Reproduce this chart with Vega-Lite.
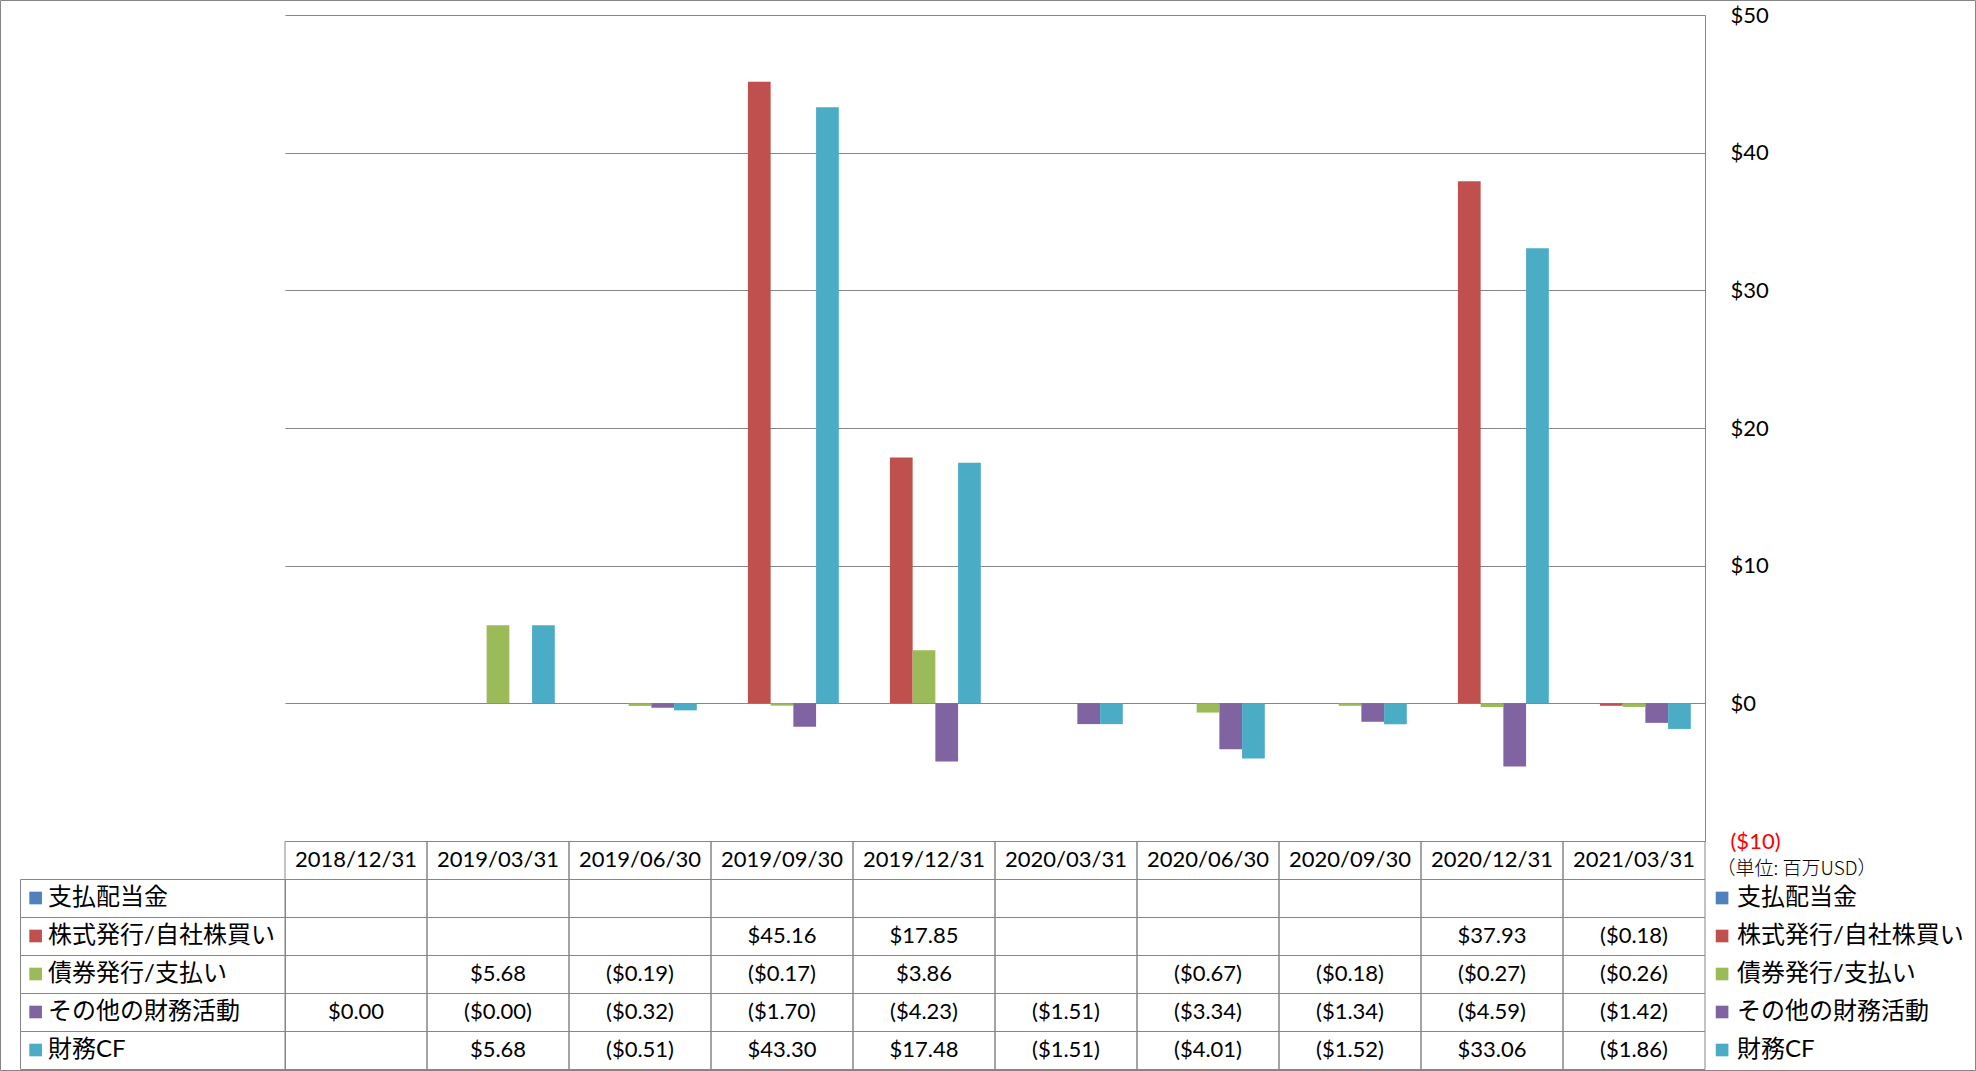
{
  "$schema": "https://vega.github.io/schema/vega-lite/v6.json",
  "width": 1420,
  "height": 1054,
  "autosize": {"type": "none"},
  "padding": {"left": 285, "top": 15, "right": 271, "bottom": 2},
  "background": "#ffffff",
  "config": {"view": {"stroke": null}},
  "datasets": {
    "dates": [
      {"date": "2018/12/31"}, {"date": "2019/03/31"}, {"date": "2019/06/30"}, {"date": "2019/09/30"}, {"date": "2019/12/31"},
      {"date": "2020/03/31"}, {"date": "2020/06/30"}, {"date": "2020/09/30"}, {"date": "2020/12/31"}, {"date": "2021/03/31"}
    ],
    "series": [
      {"series": "支払配当金"}, {"series": "株式発行/自社株買い"}, {"series": "債券発行/支払い"}, {"series": "その他の財務活動"}, {"series": "財務CF"}
    ],
    "frame": [{"frame": "border"}],
    "cf": [
      {"date": "2018/12/31", "series": "支払配当金", "value": null, "text": ""},
      {"date": "2019/03/31", "series": "支払配当金", "value": null, "text": ""},
      {"date": "2019/06/30", "series": "支払配当金", "value": null, "text": ""},
      {"date": "2019/09/30", "series": "支払配当金", "value": null, "text": ""},
      {"date": "2019/12/31", "series": "支払配当金", "value": null, "text": ""},
      {"date": "2020/03/31", "series": "支払配当金", "value": null, "text": ""},
      {"date": "2020/06/30", "series": "支払配当金", "value": null, "text": ""},
      {"date": "2020/09/30", "series": "支払配当金", "value": null, "text": ""},
      {"date": "2020/12/31", "series": "支払配当金", "value": null, "text": ""},
      {"date": "2021/03/31", "series": "支払配当金", "value": null, "text": ""},
      {"date": "2018/12/31", "series": "株式発行/自社株買い", "value": null, "text": ""},
      {"date": "2019/03/31", "series": "株式発行/自社株買い", "value": null, "text": ""},
      {"date": "2019/06/30", "series": "株式発行/自社株買い", "value": null, "text": ""},
      {"date": "2019/09/30", "series": "株式発行/自社株買い", "value": 45.16, "text": "$45.16"},
      {"date": "2019/12/31", "series": "株式発行/自社株買い", "value": 17.85, "text": "$17.85"},
      {"date": "2020/03/31", "series": "株式発行/自社株買い", "value": null, "text": ""},
      {"date": "2020/06/30", "series": "株式発行/自社株買い", "value": null, "text": ""},
      {"date": "2020/09/30", "series": "株式発行/自社株買い", "value": null, "text": ""},
      {"date": "2020/12/31", "series": "株式発行/自社株買い", "value": 37.93, "text": "$37.93"},
      {"date": "2021/03/31", "series": "株式発行/自社株買い", "value": -0.18, "text": "($0.18)"},
      {"date": "2018/12/31", "series": "債券発行/支払い", "value": null, "text": ""},
      {"date": "2019/03/31", "series": "債券発行/支払い", "value": 5.68, "text": "$5.68"},
      {"date": "2019/06/30", "series": "債券発行/支払い", "value": -0.19, "text": "($0.19)"},
      {"date": "2019/09/30", "series": "債券発行/支払い", "value": -0.17, "text": "($0.17)"},
      {"date": "2019/12/31", "series": "債券発行/支払い", "value": 3.86, "text": "$3.86"},
      {"date": "2020/03/31", "series": "債券発行/支払い", "value": null, "text": ""},
      {"date": "2020/06/30", "series": "債券発行/支払い", "value": -0.67, "text": "($0.67)"},
      {"date": "2020/09/30", "series": "債券発行/支払い", "value": -0.18, "text": "($0.18)"},
      {"date": "2020/12/31", "series": "債券発行/支払い", "value": -0.27, "text": "($0.27)"},
      {"date": "2021/03/31", "series": "債券発行/支払い", "value": -0.26, "text": "($0.26)"},
      {"date": "2018/12/31", "series": "その他の財務活動", "value": 0.0, "text": "$0.00"},
      {"date": "2019/03/31", "series": "その他の財務活動", "value": -0.001, "text": "($0.00)"},
      {"date": "2019/06/30", "series": "その他の財務活動", "value": -0.32, "text": "($0.32)"},
      {"date": "2019/09/30", "series": "その他の財務活動", "value": -1.70, "text": "($1.70)"},
      {"date": "2019/12/31", "series": "その他の財務活動", "value": -4.23, "text": "($4.23)"},
      {"date": "2020/03/31", "series": "その他の財務活動", "value": -1.51, "text": "($1.51)"},
      {"date": "2020/06/30", "series": "その他の財務活動", "value": -3.34, "text": "($3.34)"},
      {"date": "2020/09/30", "series": "その他の財務活動", "value": -1.34, "text": "($1.34)"},
      {"date": "2020/12/31", "series": "その他の財務活動", "value": -4.59, "text": "($4.59)"},
      {"date": "2021/03/31", "series": "その他の財務活動", "value": -1.42, "text": "($1.42)"},
      {"date": "2018/12/31", "series": "財務CF", "value": null, "text": ""},
      {"date": "2019/03/31", "series": "財務CF", "value": 5.68, "text": "$5.68"},
      {"date": "2019/06/30", "series": "財務CF", "value": -0.51, "text": "($0.51)"},
      {"date": "2019/09/30", "series": "財務CF", "value": 43.30, "text": "$43.30"},
      {"date": "2019/12/31", "series": "財務CF", "value": 17.48, "text": "$17.48"},
      {"date": "2020/03/31", "series": "財務CF", "value": -1.51, "text": "($1.51)"},
      {"date": "2020/06/30", "series": "財務CF", "value": -4.01, "text": "($4.01)"},
      {"date": "2020/09/30", "series": "財務CF", "value": -1.52, "text": "($1.52)"},
      {"date": "2020/12/31", "series": "財務CF", "value": 33.06, "text": "$33.06"},
      {"date": "2021/03/31", "series": "財務CF", "value": -1.86, "text": "($1.86)"}
    ]
  },
  "resolve": {"scale": {"x": "independent", "y": "independent"}, "axis": {"x": "independent", "y": "independent"}},
  "layer": [
    {
      "data": {"name": "frame"},
      "mark": {"type": "rect", "fill": null, "stroke": "#868686", "strokeWidth": 1},
      "encoding": {
        "x": {"datum": 0, "type": "quantitative", "scale": {"domain": [0, 1], "range": [-284.5, 1690.5], "nice": false, "zero": false}, "axis": null},
        "x2": {"datum": 1},
        "y": {"datum": 0, "type": "quantitative", "scale": {"domain": [0, 1], "range": [-14.5, 1055.5], "nice": false, "zero": false}, "axis": null},
        "y2": {"datum": 1}
      }
    },
    {
      "data": {"name": "cf"},
      "mark": {"type": "bar"},
      "encoding": {
        "x": {"field": "date", "type": "nominal", "scale": {"type": "band", "domain": ["2018/12/31", "2019/03/31", "2019/06/30", "2019/09/30", "2019/12/31", "2020/03/31", "2020/06/30", "2020/09/30", "2020/12/31", "2021/03/31"], "paddingInner": 0.2, "paddingOuter": 0.1}, "axis": null},
        "xOffset": {"field": "series", "type": "nominal", "scale": {"domain": ["支払配当金", "株式発行/自社株買い", "債券発行/支払い", "その他の財務活動", "財務CF"], "paddingInner": 0, "paddingOuter": 0}},
        "y": {
          "field": "value", "type": "quantitative",
          "scale": {"domain": [-10, 50], "range": [826, 0], "nice": false},
          "axis": {
            "orient": "right", "values": [-10, 0, 10, 20, 30, 40, 50],
            "grid": true, "gridColor": "#868686", "gridWidth": 1,
            "domain": true, "domainColor": "#868686", "domainWidth": 1,
            "ticks": false, "labelPadding": 25, "labelOverlap": false, "labelBound": false,
            "labelFont": "Lato", "labelFontSize": 22,
            "labelColor": {"condition": {"test": "datum.value < 0", "value": "#FF0000"}, "value": "#000000"},
            "labelExpr": "datum.value < 0 ? '($' + (-datum.value) + ')' : '$' + datum.value",
            "title": "（単位: 百万USD）", "titleAngle": 0, "titleAlign": "left", "titleBaseline": "middle",
            "titleX": 11, "titleY": 853, "titleFont": "Noto Sans CJK JP", "titleFontSize": 19,
            "titleFontWeight": 300, "titleColor": "#000000"
          }
        },
        "color": {"field": "series", "type": "nominal", "scale": {"domain": ["支払配当金", "株式発行/自社株買い", "債券発行/支払い", "その他の財務活動", "財務CF"], "range": ["#4F81BD", "#C0504D", "#9BBB59", "#8064A2", "#4BACC6"]}, "legend": null}
      }
    },
    {
      "data": {"name": "cf"},
      "mark": {"type": "rect", "fill": null, "stroke": "#868686", "strokeWidth": 1},
      "encoding": {
        "x": {"field": "date", "type": "nominal", "scale": {"type": "band", "domain": ["2018/12/31", "2019/03/31", "2019/06/30", "2019/09/30", "2019/12/31", "2020/03/31", "2020/06/30", "2020/09/30", "2020/12/31", "2021/03/31"], "paddingInner": 0, "paddingOuter": 0}, "axis": null},
        "y": {"field": "series", "type": "nominal", "scale": {"type": "band", "domain": ["hdr", "支払配当金", "株式発行/自社株買い", "債券発行/支払い", "その他の財務活動", "財務CF"], "range": [826.5, 1054.5], "paddingInner": 0, "paddingOuter": 0}, "axis": null}
      }
    },
    {
      "data": {"name": "dates"},
      "mark": {"type": "rect", "fill": null, "stroke": "#868686", "strokeWidth": 1},
      "encoding": {
        "x": {"field": "date", "type": "nominal", "scale": {"type": "band", "domain": ["2018/12/31", "2019/03/31", "2019/06/30", "2019/09/30", "2019/12/31", "2020/03/31", "2020/06/30", "2020/09/30", "2020/12/31", "2021/03/31"], "paddingInner": 0, "paddingOuter": 0}, "axis": null},
        "y": {"datum": "hdr", "type": "nominal", "scale": {"type": "band", "domain": ["hdr", "支払配当金", "株式発行/自社株買い", "債券発行/支払い", "その他の財務活動", "財務CF"], "range": [826.5, 1054.5], "paddingInner": 0, "paddingOuter": 0}, "axis": null}
      }
    },
    {
      "data": {"name": "dates"},
      "mark": {"type": "text", "font": "Lato", "fontSize": 22, "color": "#000000", "align": "center", "baseline": "middle"},
      "encoding": {
        "x": {"field": "date", "type": "nominal", "scale": {"type": "band", "domain": ["2018/12/31", "2019/03/31", "2019/06/30", "2019/09/30", "2019/12/31", "2020/03/31", "2020/06/30", "2020/09/30", "2020/12/31", "2021/03/31"], "paddingInner": 0, "paddingOuter": 0}, "axis": null},
        "y": {"datum": "hdr", "type": "nominal", "scale": {"type": "band", "domain": ["hdr", "支払配当金", "株式発行/自社株買い", "債券発行/支払い", "その他の財務活動", "財務CF"], "range": [826, 1054], "paddingInner": 0, "paddingOuter": 0}, "axis": null},
        "text": {"field": "date", "type": "nominal"}
      }
    },
    {
      "data": {"name": "cf"},
      "mark": {"type": "text", "font": "Lato", "fontSize": 22, "color": "#000000", "align": "center", "baseline": "middle"},
      "encoding": {
        "x": {"field": "date", "type": "nominal", "scale": {"type": "band", "domain": ["2018/12/31", "2019/03/31", "2019/06/30", "2019/09/30", "2019/12/31", "2020/03/31", "2020/06/30", "2020/09/30", "2020/12/31", "2021/03/31"], "paddingInner": 0, "paddingOuter": 0}, "axis": null},
        "y": {"field": "series", "type": "nominal", "scale": {"type": "band", "domain": ["hdr", "支払配当金", "株式発行/自社株買い", "債券発行/支払い", "その他の財務活動", "財務CF"], "range": [826, 1054], "paddingInner": 0, "paddingOuter": 0}, "axis": null},
        "text": {"field": "text", "type": "nominal"}
      }
    },
    {
      "data": {"name": "series"},
      "mark": {"type": "rect", "fill": null, "stroke": "#868686", "strokeWidth": 1},
      "encoding": {
        "x": {"datum": "lab", "type": "nominal", "scale": {"type": "band", "domain": ["lab"], "range": [-264.5, 0.5], "paddingInner": 0, "paddingOuter": 0}, "axis": null},
        "y": {"field": "series", "type": "nominal", "scale": {"type": "band", "domain": ["hdr", "支払配当金", "株式発行/自社株買い", "債券発行/支払い", "その他の財務活動", "財務CF"], "range": [826.5, 1054.5], "paddingInner": 0, "paddingOuter": 0}, "axis": null}
      }
    },
    {
      "data": {"name": "series"},
      "mark": {"type": "square", "size": 160, "opacity": 1},
      "encoding": {
        "x": {"datum": "lab", "type": "nominal", "bandPosition": 0.059, "scale": {"type": "band", "domain": ["lab"], "range": [-265, 0], "paddingInner": 0, "paddingOuter": 0}, "axis": null},
        "y": {"field": "series", "type": "nominal", "scale": {"type": "band", "domain": ["hdr", "支払配当金", "株式発行/自社株買い", "債券発行/支払い", "その他の財務活動", "財務CF"], "range": [826, 1054], "paddingInner": 0, "paddingOuter": 0}, "axis": null},
        "color": {"field": "series", "type": "nominal", "scale": {"domain": ["支払配当金", "株式発行/自社株買い", "債券発行/支払い", "その他の財務活動", "財務CF"], "range": ["#4F81BD", "#C0504D", "#9BBB59", "#8064A2", "#4BACC6"]}, "legend": null}
      }
    },
    {
      "data": {"name": "series"},
      "mark": {"type": "text", "font": "Lato, Noto Sans CJK JP", "fontSize": 24, "color": "#000000", "align": "left", "baseline": "middle"},
      "encoding": {
        "x": {"datum": "lab", "type": "nominal", "bandPosition": 0.106, "scale": {"type": "band", "domain": ["lab"], "range": [-265, 0], "paddingInner": 0, "paddingOuter": 0}, "axis": null},
        "y": {"field": "series", "type": "nominal", "scale": {"type": "band", "domain": ["hdr", "支払配当金", "株式発行/自社株買い", "債券発行/支払い", "その他の財務活動", "財務CF"], "range": [826, 1054], "paddingInner": 0, "paddingOuter": 0}, "axis": null},
        "text": {"field": "series", "type": "nominal"}
      }
    },
    {
      "data": {"name": "series"},
      "mark": {"type": "square", "size": 160, "opacity": 1},
      "encoding": {
        "x": {"datum": "leg", "type": "nominal", "bandPosition": 0.063, "scale": {"type": "band", "domain": ["leg"], "range": [1420, 1691], "paddingInner": 0, "paddingOuter": 0}, "axis": null},
        "y": {"field": "series", "type": "nominal", "scale": {"type": "band", "domain": ["hdr", "支払配当金", "株式発行/自社株買い", "債券発行/支払い", "その他の財務活動", "財務CF"], "range": [826, 1054], "paddingInner": 0, "paddingOuter": 0}, "axis": null},
        "color": {"field": "series", "type": "nominal", "scale": {"domain": ["支払配当金", "株式発行/自社株買い", "債券発行/支払い", "その他の財務活動", "財務CF"], "range": ["#4F81BD", "#C0504D", "#9BBB59", "#8064A2", "#4BACC6"]}, "legend": null}
      }
    },
    {
      "data": {"name": "series"},
      "mark": {"type": "text", "font": "Lato, Noto Sans CJK JP", "fontSize": 24, "color": "#000000", "align": "left", "baseline": "middle"},
      "encoding": {
        "x": {"datum": "leg", "type": "nominal", "bandPosition": 0.118, "scale": {"type": "band", "domain": ["leg"], "range": [1420, 1691], "paddingInner": 0, "paddingOuter": 0}, "axis": null},
        "y": {"field": "series", "type": "nominal", "scale": {"type": "band", "domain": ["hdr", "支払配当金", "株式発行/自社株買い", "債券発行/支払い", "その他の財務活動", "財務CF"], "range": [826, 1054], "paddingInner": 0, "paddingOuter": 0}, "axis": null},
        "text": {"field": "series", "type": "nominal"}
      }
    }
  ]
}
